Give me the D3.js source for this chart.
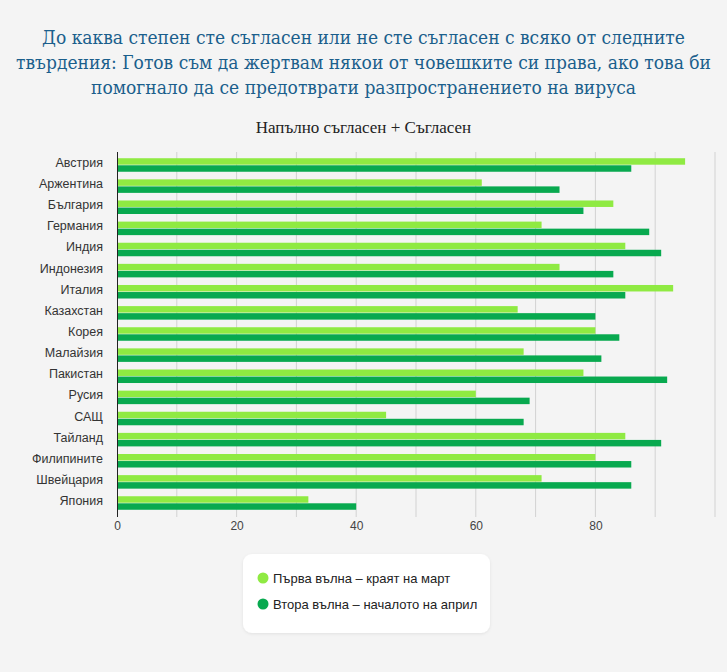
<!DOCTYPE html>
<html>
<head>
<meta charset="utf-8">
<script src="https://cdn.jsdelivr.net/npm/d3@7"></script>
<style>
  html, body { margin: 0; padding: 0; background: #f4f4f4; }
  svg { display: block; }
</style>
</head>
<body>
<svg id="chart" width="727" height="672"></svg>
<script>
// data
const countries = ["Австрия", "Аржентина", "България", "Германия", "Индия", "Индонезия", "Италия",
  "Казахстан", "Корея", "Малайзия", "Пакистан", "Русия", "САЩ", "Тайланд", "Филипините",
  "Швейцария", "Япония"];
const firstWave = [95, 61, 83, 71, 85, 74, 93, 67, 80, 68, 78, 60, 45, 85, 80, 71, 32];
const secondWave = [86, 74, 78, 89, 91, 83, 85, 80, 84, 81, 92, 69, 68, 91, 86, 86, 40];
const seriesNames = ["Първа вълна – краят на март", "Втора вълна – началото на април"];
const xTicks = [0, 20, 40, 60, 80];
const gridTicks = [0, 10, 20, 30, 40, 50, 60, 70, 80, 90, 100];

const titleLines = [
  "До каква степен сте съгласен или не сте съгласен с всяко от следните",
  "твърдения: Готов съм да жертвам някои от човешките си права, ако това би",
  "помогнало да се предотврати разпространението на вируса"
];
const subtitle = "Напълно съгласен + Съгласен";
const colors = ["#8fea42", "#08a94f"];

const W = 727, H = 672;

const svg = d3.select("#chart");
svg.append("rect").attr("width", W).attr("height", H).attr("fill", "#f4f4f4");

// title
svg.append("g")
  .selectAll("text")
  .data(titleLines)
  .join("text")
  .attr("x", W / 2)
  .attr("y", (d, i) => 44 + i * 25)
  .attr("text-anchor", "middle")
  .attr("font-family", "'DejaVu Serif Condensed', 'Liberation Serif', serif")
  .attr("font-size", 19)
  .attr("fill", "#1b5f8c")
  .text(d => d);

svg.append("text")
  .attr("x", W / 2)
  .attr("y", 133)
  .attr("text-anchor", "middle")
  .attr("font-family", "'Liberation Serif', serif")
  .attr("font-size", 17)
  .attr("fill", "#222")
  .text(subtitle);

const x = d3.scaleLinear().domain([0, 100]).range([117, 715]);
const y = d3.scaleBand().domain(countries).range([152, 512]).paddingInner(0.36).paddingOuter(0.2);
const sub = d3.scaleBand().domain([0, 1]).range([0, y.bandwidth()]).paddingInner(0.08);

// grid
svg.append("g")
  .selectAll("line")
  .data(gridTicks.slice(1))
  .join("line")
  .attr("x1", d => x(d)).attr("x2", d => x(d))
  .attr("y1", 152).attr("y2", 517)
  .attr("stroke", "#d2d2d2")
  .attr("stroke-width", 1);

// bars
const rows = svg.append("g")
  .selectAll("g")
  .data(countries.map((c, i) => ({ c, v: [firstWave[i], secondWave[i]] })))
  .join("g")
  .attr("transform", d => `translate(0,${y(d.c) + 2})`);

rows.selectAll("rect")
  .data(d => d.v)
  .join("rect")
  .attr("x", x(0))
  .attr("y", (d, i) => sub(i))
  .attr("width", d => x(d) - x(0))
  .attr("height", sub.bandwidth())
  .attr("fill", (d, i) => colors[i]);

// y axis
const yAxis = svg.append("g")
  .attr("transform", `translate(${x(0)},0)`)
  .call(d3.axisLeft(y).tickSize(0).tickPadding(14));
yAxis.select(".domain").attr("stroke", "#222").attr("d", "M0.5,152V517");
yAxis.selectAll("text")
  .attr("font-family", "'Liberation Sans', Arial, sans-serif")
  .attr("font-size", 12.5)
  .attr("fill", "#333");

// x axis
const xAxis = svg.append("g")
  .attr("transform", "translate(0,512)")
  .call(d3.axisBottom(x).tickValues(xTicks).tickSize(0).tickPadding(9));
xAxis.select(".domain").remove();
xAxis.selectAll("text")
  .attr("font-family", "'Liberation Sans', Arial, sans-serif")
  .attr("font-size", 12)
  .attr("fill", "#444");

// legend
const defs = svg.append("defs");
const f = defs.append("filter").attr("id", "sh").attr("x", "-10%").attr("y", "-10%").attr("width", "120%").attr("height", "130%");
f.append("feDropShadow").attr("dx", 0).attr("dy", 1).attr("stdDeviation", 1.5).attr("flood-color", "#000").attr("flood-opacity", 0.08);

const legend = svg.append("g").attr("transform", "translate(243,554)");
legend.append("rect")
  .attr("width", 247).attr("height", 79).attr("rx", 9)
  .attr("fill", "#fff")
  .attr("filter", "url(#sh)");
const li = legend.selectAll("g.item")
  .data(seriesNames)
  .join("g")
  .attr("class", "item")
  .attr("transform", (d, i) => `translate(20,${24 + i * 26})`);
li.append("circle").attr("r", 5.5).attr("fill", (d, i) => colors[i]);
li.append("text")
  .attr("x", 10)
  .attr("dy", "0.35em")
  .attr("font-family", "'Liberation Sans', Arial, sans-serif")
  .attr("font-size", 13)
  .attr("fill", "#222")
  .text(d => d);
</script>
</body>
</html>
